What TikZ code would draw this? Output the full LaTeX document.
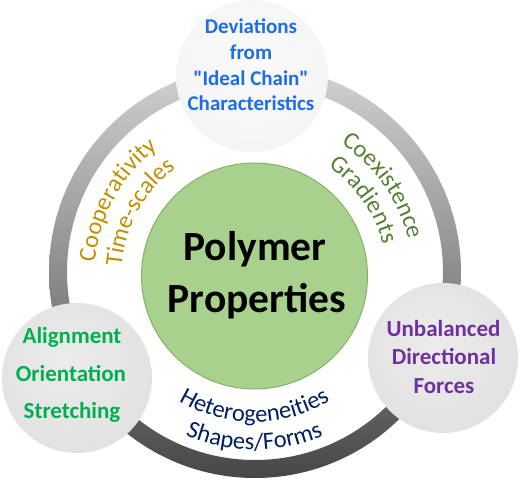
\documentclass[tikz,border=0pt]{standalone}
\usepackage{fontspec}
\setmainfont{Carlito}[Ligatures=TeXOff]
\usetikzlibrary{decorations.text,calc}

\definecolor{cBlue}{HTML}{1C6DE8}
\definecolor{cGreenL}{HTML}{00B050}
\definecolor{cPurple}{HTML}{7030A0}
\definecolor{cGold}{HTML}{BF9000}
\definecolor{cOlive}{HTML}{548235}
\definecolor{cNavy}{HTML}{002060}
\definecolor{gFill}{HTML}{A9D18E}
\definecolor{gLine}{HTML}{86B068}
\definecolor{ringTop}{HTML}{D2D2D2}
\definecolor{ringMid}{HTML}{A2A2A2}
\definecolor{ringBot}{HTML}{474747}

\pgfdeclareradialshading{topball}{\pgfpoint{0bp}{6bp}}{rgb(0bp)=(0.98,0.98,0.98); rgb(28bp)=(0.96,0.96,0.96); rgb(50bp)=(0.895,0.895,0.895)}
\pgfdeclareradialshading{sideball}{\pgfpoint{-4bp}{6bp}}{rgb(0bp)=(0.925,0.925,0.925); rgb(28bp)=(0.885,0.885,0.885); rgb(50bp)=(0.80,0.80,0.80)}

\newcommand\arcfont{\fontsize{24.5}{29}\selectfont}

\tikzset{
  ball/.style={circle, inner sep=0pt, outer sep=0pt, shade, minimum size=#1},
  core/.style={circle, inner sep=0pt, fill=gFill, draw=gLine, line width=1pt, minimum size=226pt},
  lineA/.style={anchor=base, inner sep=0pt, font=\bfseries\fontsize{21}{25}\selectfont, text=cBlue},
  lineB/.style={anchor=base, inner sep=0pt, font=\bfseries\fontsize{23}{27}\selectfont, text=cGreenL},
  lineC/.style={anchor=base, inner sep=0pt, font=\bfseries\fontsize{23}{27}\selectfont, text=cPurple},
  lineD/.style={anchor=base, inner sep=0pt, font=\bfseries\fontsize{41.5}{50}\selectfont, text=black},
}

\begin{document}
\begin{tikzpicture}[x=1pt,y=1pt]
\useasboundingbox (0,0) rectangle (520,-484);
\coordinate (rc) at (255,-272);
\coordinate (gc) at (254.5,-276);

% grey ring
\shade[top color=ringTop, middle color=ringMid, bottom color=ringBot, even odd rule]
  (rc) circle[radius=206] (rc) circle[radius=188];

% centre circle
\node[core] (center) at (gc) {};
\node[lineD] (p1) at (255,-260) {Polymer};
\node[lineD] (p2) at (257,-312) {Properties};

% satellite circles
\node[ball=152pt, shading=topball] (topc) at (252,-76) {};
\node[ball=150pt, shading=sideball] (leftc) at (77,-378) {};
\node[ball=150pt, shading=sideball] (rightc) at (443,-358) {};

\node[lineA] (t1) at (251,-34) {Deviations};
\node[lineA] (t2) at (251,-60) {from};
\node[lineA] (t3) at (251,-86) {"Ideal Chain"};
\node[lineA] (t4) at (251,-111) {Characteristics};

\node[lineB] (l1) at (72,-343) {Alignment};
\node[lineB] (l2) at (71,-381) {Orientation};
\node[lineB] (l3) at (72,-418) {Stretching};

\node[lineC] (r1) at (443.5,-336) {Unbalanced};
\node[lineC] (r2) at (444,-364) {Directional};
\node[lineC] (r3) at (444,-393) {Forces};

% curved labels
\path[decorate, decoration={text along path, text align=center, text color=cGold,
  text={|\arcfont|Cooperativity}}]
  ($(gc)+(211:160)$) arc[start angle=211, end angle=91, radius=160];
\path[decorate, decoration={text along path, text align=center, text color=cGold,
  text={|\arcfont|Time-scales}}]
  ($(gc)+(211:133)$) arc[start angle=211, end angle=91, radius=133];

\path[decorate, decoration={text along path, text align=center, text color=cOlive,
  text={|\arcfont|Coexistence}}]
  ($(gc)+(95:158)$) arc[start angle=95, end angle=-25, radius=158];
\path[decorate, decoration={text along path, text align=center, text color=cOlive,
  text={|\arcfont|Gradients}}]
  ($(gc)+(95:132)$) arc[start angle=95, end angle=-25, radius=132];

\path[decorate, decoration={text along path, text align=center, text color=cNavy,
  text={|\arcfont|Heterogeneities}}]
  ($(gc)+(210:146)$) arc[start angle=210, end angle=330, radius=146];
\path[decorate, decoration={text along path, text align=center, text color=cNavy,
  text={|\arcfont|Shapes/Forms}}]
  ($(gc)+(210:174)$) arc[start angle=210, end angle=330, radius=174];
\end{tikzpicture}
\end{document}
